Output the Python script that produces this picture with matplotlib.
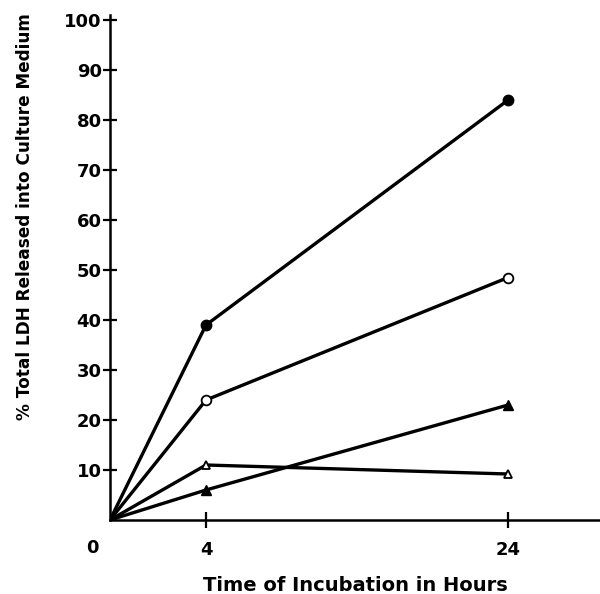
import numpy as np
import matplotlib
matplotlib.use('Agg')
import matplotlib.pyplot as plt

hours = [0, 4, 24]
filled_circle = [0, 39, 84]
open_circle = [0, 24, 48.5]
filled_tri = [0, 6, 23]
open_tri = [0, 11, 9.2]

k = 0.1573  # compressed spacing after 4 h, as in the original figure


def fwd(x):
    x = np.asarray(x, dtype=float)
    return np.where(x <= 4, x / 4, 1 + (x - 4) * k)


def inv(y):
    y = np.asarray(y, dtype=float)
    return np.where(y <= 1, 4 * y, 4 + (y - 1) / k)


plt.rcParams['font.family'] = ['DejaVu Sans']
plt.rcParams['font.weight'] = 'bold'

fig = plt.figure(figsize=(6, 5.94), dpi=100)
ax = fig.add_axes([0.1833, 0.1246, 0.8167, 0.850])
ax.set_xscale('function', functions=(fwd, inv))

lw = 2.4
ax.plot(hours, filled_circle, '-', color='black', lw=lw)
ax.plot(hours[1:], filled_circle[1:], 'o', color='black', ms=7.5)
ax.plot(hours, open_circle, '-', color='black', lw=lw)
ax.plot(hours[1:], open_circle[1:], 'o', mfc='white', mec='black', mew=1.3, ms=7)
ax.plot(hours, filled_tri, '-', color='black', lw=lw)
ax.plot(hours[1:], filled_tri[1:], '^', color='black', ms=7)
ax.plot(hours, open_tri, '-', color='black', lw=lw)
ax.plot(hours[1:], open_tri[1:], '^', mfc='white', mec='black', mew=1.3, ms=6)

ax.set_xlim(0, 30.09)
ax.set_ylim(0, 101)
ax.spines['top'].set_visible(False)
ax.spines['right'].set_visible(False)
for s in ('left', 'bottom'):
    ax.spines[s].set_linewidth(1.8)

ax.set_yticks(range(10, 101, 10))
ax.set_xticks([4, 24])
ax.set_xticklabels(['4', '24'])
ax.tick_params(axis='y', direction='inout', length=10, width=1.6, pad=1, labelsize=13)
ax.tick_params(axis='x', direction='inout', length=12, width=1.6, pad=9, labelsize=13)
ax.text(-0.035, -0.056, '0', transform=ax.transAxes, ha='center', va='center',
        fontsize=13, fontweight='bold')

ax.set_ylabel('% Total LDH Released into Culture Medium', fontsize=12.2,
              fontweight='bold')
ax.yaxis.set_label_coords(-0.155, 0.6)
fig.text(0.592, 0.0135, 'Time of Incubation in Hours', ha='center', va='center',
         fontsize=14, fontweight='bold')

fig.savefig('out.png', dpi=100)
